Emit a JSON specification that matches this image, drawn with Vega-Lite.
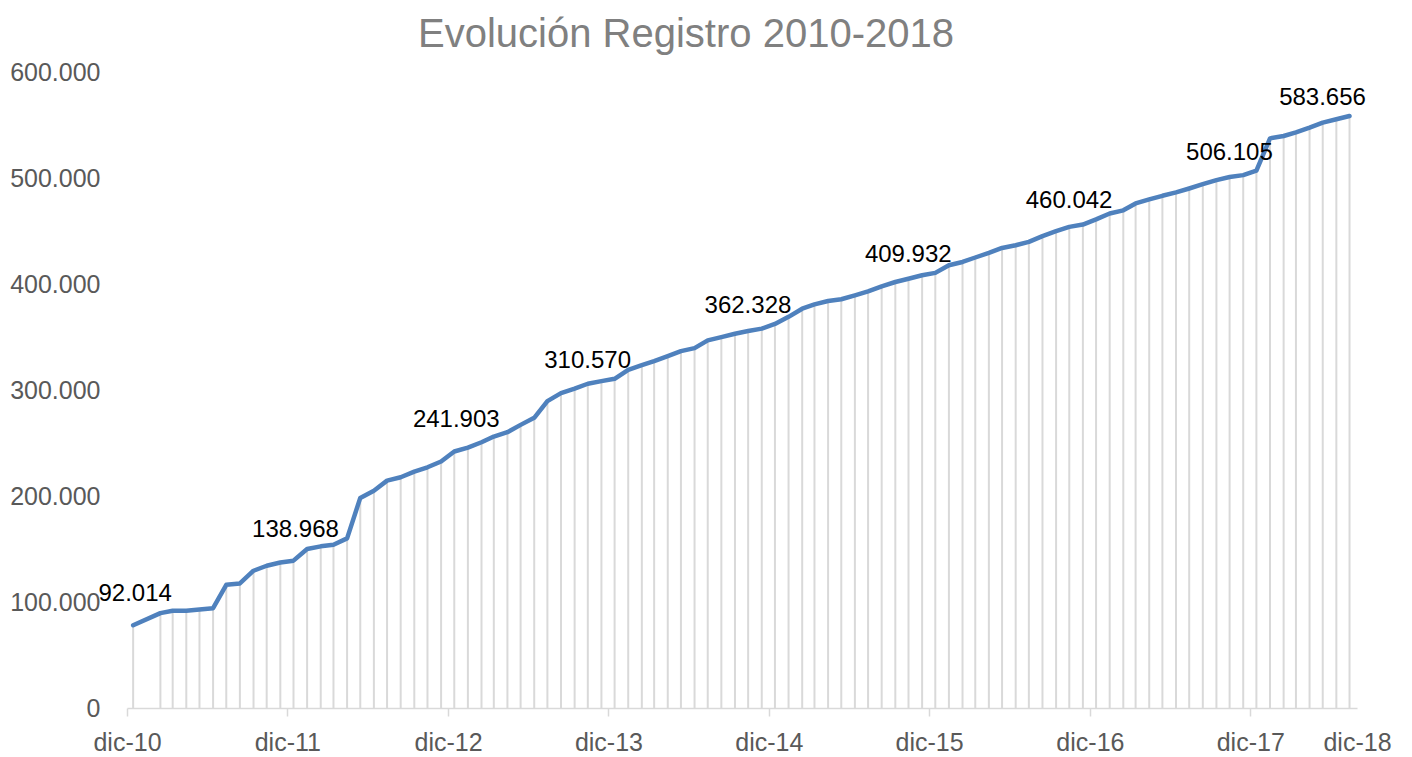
{
  "$schema": "https://vega.github.io/schema/vega-lite/v6.json",
  "width": 1230,
  "height": 636,
  "autosize": {"type": "none"},
  "padding": {"left": 127, "top": 72, "right": 55, "bottom": 49},
  "background": "#ffffff",
  "config": {
    "view": {"stroke": null},
    "locale": {"number": {"decimal": ",", "thousands": ".", "grouping": [3], "currency": ["", " €"]}},
    "font": "Liberation Sans"
  },
  "title": {
    "text": "Evolución Registro 2010-2018",
    "fontSize": 40,
    "fontWeight": "normal",
    "color": "#808080",
    "font": "Liberation Sans",
    "anchor": "middle",
    "frame": "group",
    "dx": -56,
    "offset": 5
  },
  "data": {
    "format": {"parse": {"date": "date"}},
    "values": [
      {"date": "2010-12-15", "value": 78100, "label": "92.014"},
      {"date": "2011-02-15", "value": 89500},
      {"date": "2011-03-15", "value": 91700},
      {"date": "2011-04-15", "value": 91800},
      {"date": "2011-05-15", "value": 92900},
      {"date": "2011-06-15", "value": 94200},
      {"date": "2011-07-15", "value": 116200},
      {"date": "2011-08-15", "value": 117500},
      {"date": "2011-09-15", "value": 129500},
      {"date": "2011-10-15", "value": 134200},
      {"date": "2011-11-15", "value": 137300},
      {"date": "2011-12-15", "value": 139000, "label": "138.968"},
      {"date": "2012-01-15", "value": 150000},
      {"date": "2012-02-15", "value": 152500},
      {"date": "2012-03-15", "value": 154000},
      {"date": "2012-04-15", "value": 160000},
      {"date": "2012-05-15", "value": 198200},
      {"date": "2012-06-15", "value": 205000},
      {"date": "2012-07-15", "value": 214500},
      {"date": "2012-08-15", "value": 217700},
      {"date": "2012-09-15", "value": 223000},
      {"date": "2012-10-15", "value": 227100},
      {"date": "2012-11-15", "value": 232500},
      {"date": "2012-12-15", "value": 242000, "label": "241.903"},
      {"date": "2013-01-15", "value": 245700},
      {"date": "2013-02-15", "value": 250700},
      {"date": "2013-03-15", "value": 256100},
      {"date": "2013-04-15", "value": 260200},
      {"date": "2013-05-15", "value": 267100},
      {"date": "2013-06-15", "value": 273800},
      {"date": "2013-07-15", "value": 289500},
      {"date": "2013-08-15", "value": 297000},
      {"date": "2013-09-15", "value": 301200},
      {"date": "2013-10-15", "value": 305900},
      {"date": "2013-11-15", "value": 308400},
      {"date": "2013-12-15", "value": 310600, "label": "310.570"},
      {"date": "2014-01-15", "value": 319100},
      {"date": "2014-02-15", "value": 323500},
      {"date": "2014-03-15", "value": 327300},
      {"date": "2014-04-15", "value": 332000},
      {"date": "2014-05-15", "value": 336700},
      {"date": "2014-06-15", "value": 339500},
      {"date": "2014-07-15", "value": 346800},
      {"date": "2014-08-15", "value": 349900},
      {"date": "2014-09-15", "value": 353100},
      {"date": "2014-10-15", "value": 355600},
      {"date": "2014-11-15", "value": 357900},
      {"date": "2014-12-15", "value": 362300, "label": "362.328"},
      {"date": "2015-01-15", "value": 369000},
      {"date": "2015-02-15", "value": 376700},
      {"date": "2015-03-15", "value": 380800},
      {"date": "2015-04-15", "value": 384000},
      {"date": "2015-05-15", "value": 385600},
      {"date": "2015-06-15", "value": 389300},
      {"date": "2015-07-15", "value": 393100},
      {"date": "2015-08-15", "value": 397800},
      {"date": "2015-09-15", "value": 401900},
      {"date": "2015-10-15", "value": 405000},
      {"date": "2015-11-15", "value": 408200},
      {"date": "2015-12-15", "value": 410500, "label": "409.932"},
      {"date": "2016-01-15", "value": 417700},
      {"date": "2016-02-15", "value": 420800},
      {"date": "2016-03-15", "value": 425000},
      {"date": "2016-04-15", "value": 429300},
      {"date": "2016-05-15", "value": 434000},
      {"date": "2016-06-15", "value": 436600},
      {"date": "2016-07-15", "value": 439700},
      {"date": "2016-08-15", "value": 445100},
      {"date": "2016-09-15", "value": 449800},
      {"date": "2016-10-15", "value": 453900},
      {"date": "2016-11-15", "value": 456100},
      {"date": "2016-12-15", "value": 461000, "label": "460.042"},
      {"date": "2017-01-15", "value": 466500},
      {"date": "2017-02-15", "value": 469500},
      {"date": "2017-03-15", "value": 476000},
      {"date": "2017-04-15", "value": 479800},
      {"date": "2017-05-15", "value": 483200},
      {"date": "2017-06-15", "value": 486400},
      {"date": "2017-07-15", "value": 490100},
      {"date": "2017-08-15", "value": 494200},
      {"date": "2017-09-15", "value": 498000},
      {"date": "2017-10-15", "value": 500900},
      {"date": "2017-11-15", "value": 502700},
      {"date": "2017-12-15", "value": 507000, "label": "506.105"},
      {"date": "2018-01-15", "value": 537400},
      {"date": "2018-02-15", "value": 539600},
      {"date": "2018-03-15", "value": 543100},
      {"date": "2018-04-15", "value": 547500},
      {"date": "2018-05-15", "value": 552200},
      {"date": "2018-06-15", "value": 555400},
      {"date": "2018-07-15", "value": 558500, "label": "583.656"}
    ]
  },
  "encoding": {
    "x": {
      "field": "date",
      "type": "temporal",
      "scale": {"domain": [{"year": 2010, "month": 12, "date": 1}, {"year": 2018, "month": 8, "date": 1}], "nice": false},
      "axis": {
        "title": null,
        "values": [
          {"year": 2010, "month": 12, "date": 1},
          {"year": 2011, "month": 12, "date": 1},
          {"year": 2012, "month": 12, "date": 1},
          {"year": 2013, "month": 12, "date": 1},
          {"year": 2014, "month": 12, "date": 1},
          {"year": 2015, "month": 12, "date": 1},
          {"year": 2016, "month": 12, "date": 1},
          {"year": 2017, "month": 12, "date": 1},
          {"year": 2018, "month": 8, "date": 1}
        ],
        "labelExpr": "'dic-' + timeFormat(datum.value, '%y')",
        "labelFlush": false,
        "labelOverlap": false,
        "labelFont": "Liberation Sans",
        "labelFontSize": 25,
        "labelColor": "#595959",
        "labelPadding": 14,
        "grid": false,
        "domainColor": "#d9d9d9",
        "domainWidth": 1.5,
        "tickColor": "#d9d9d9",
        "tickWidth": 1.5,
        "tickSize": 8,
        "tickOpacity": {"condition": {"test": "month(datum.value) == 7", "value": 0}, "value": 1}
      }
    },
    "y": {
      "field": "value",
      "type": "quantitative",
      "scale": {"domain": [0, 600000], "nice": false},
      "axis": {
        "title": null,
        "values": [0, 100000, 200000, 300000, 400000, 500000, 600000],
        "format": ",d",
        "grid": false,
        "domain": false,
        "ticks": false,
        "labelFont": "Liberation Sans",
        "labelFontSize": 25,
        "labelColor": "#595959",
        "labelPadding": 27
      }
    }
  },
  "layer": [
    {
      "data": {"values": [{}]},
      "mark": {
        "type": "rect",
        "fill": {
          "gradient": "linear",
          "x1": 0, "y1": 0, "x2": 0, "y2": 1,
          "stops": [
            {"offset": 0, "color": "#ffffff"},
            {"offset": 0.15, "color": "#ffffff"},
            {"offset": 0.55, "color": "#f5f5f5"},
            {"offset": 1, "color": "#f0f0f0"}
          ]
        }
      },
      "encoding": {
        "x": {"datum": {"year": 2010, "month": 12, "date": 1}, "type": "temporal"},
        "x2": {"datum": {"year": 2018, "month": 8, "date": 1}},
        "y": {"datum": 0, "type": "quantitative"},
        "y2": {"datum": 600000}
      }
    },
    {
      "mark": {"type": "rule", "color": "#d9d9d9", "strokeWidth": 2},
      "encoding": {
        "y2": {"datum": 0}
      }
    },
    {
      "mark": {"type": "line", "color": "#4f81bd", "strokeWidth": 4.5, "strokeCap": "round", "strokeJoin": "round"}
    },
    {
      "transform": [{"filter": "isValid(datum.label) && year(datum.date) <= 2012"}],
      "mark": {"type": "text", "font": "Liberation Sans", "fontSize": 24, "color": "#000000", "align": "center", "baseline": "alphabetic", "dx": 2, "dy": -24},
      "encoding": {"text": {"field": "label"}}
    },
    {
      "transform": [{"filter": "isValid(datum.label) && year(datum.date) > 2012"}],
      "mark": {"type": "text", "font": "Liberation Sans", "fontSize": 24, "color": "#000000", "align": "center", "baseline": "alphabetic", "dx": -27, "dy": -11},
      "encoding": {"text": {"field": "label"}}
    }
  ]
}
